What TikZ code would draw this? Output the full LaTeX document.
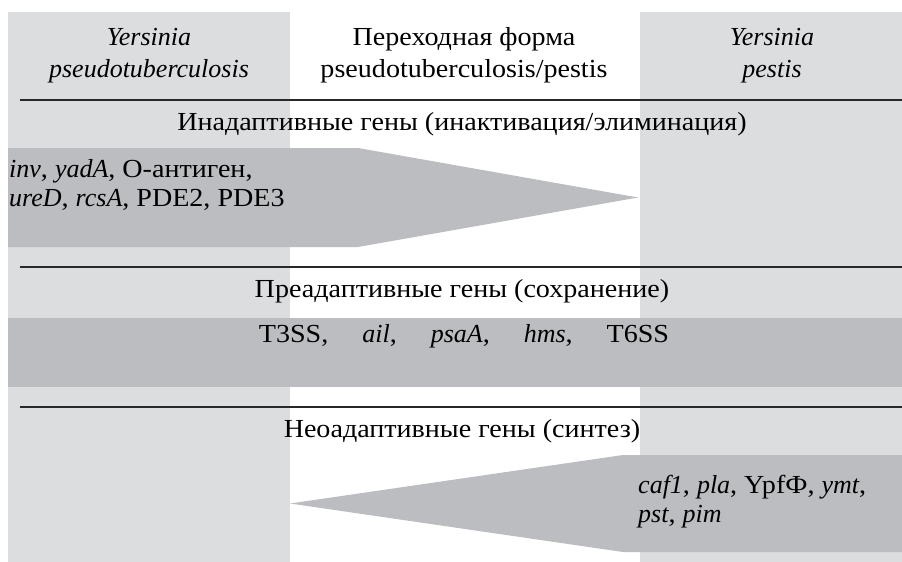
\documentclass[tikz,border=0pt]{standalone}
\usepackage{fontspec}
\setmainfont{Liberation Serif}[UprightFeatures={FakeStretch=1.08}]
\definecolor{colgray}{RGB}{220,221,223}
\definecolor{arrowgray}{RGB}{188,189,192}
\definecolor{ruleblack}{RGB}{40,40,40}
\begin{document}
\begin{tikzpicture}[x=1pt,y=-1pt,
  every node/.style={inner sep=0pt, font=\fontsize{26}{31}\selectfont},
  hdr/.style={anchor=base, align=center},
  sect/.style={anchor=base},
  genes/.style={anchor=base west, align=left, font=\fontsize{26}{29}\selectfont},
  rule/.style={draw=ruleblack, line width=2pt},
  band/.style={fill=arrowgray, draw=none}]
\useasboundingbox (0,0) rectangle (902,562);

% background columns
\fill[colgray] (8,12) rectangle (290,562);
\fill[colgray] (640,12) rectangle (902,562);

% column headers (anchored at the baseline of the second line)
\node[hdr] (hpseudo) at (149,77) {\textit{Yersinia}\\[1pt]\textit{pseudotuberculosis}};
\node[hdr] (htrans) at (464,77) {Переходная форма\\[1pt]pseudotuberculosis/pestis};
\node[hdr] (hpestis) at (772,77) {\textit{Yersinia}\\[1pt]\textit{pestis}};

% horizontal rules
\coordinate (r1a) at (20,100);  \coordinate (r1b) at (902,100);
\coordinate (r2a) at (20,267);  \coordinate (r2b) at (902,267);
\coordinate (r3a) at (20,407);  \coordinate (r3b) at (902,407);
\draw[rule] (r1a) -- (r1b);
\draw[rule] (r2a) -- (r2b);
\draw[rule] (r3a) -- (r3b);

% section titles
\node[sect] (tinad) at (462,130) {Инадаптивные гены (инактивация/элиминация)};
\node[sect] (tpread) at (462,297) {Преадаптивные гены (сохранение)};
\node[sect] (tneo) at (462,437) {Неоадаптивные гены (синтез)};

% inadaptive genes: arrow pointing right
\fill[band] (8,148) -- (358,148) -- (638,197.5) -- (358,247) -- (8,247) -- cycle;
\node[genes] (ginad) at (9,206) {\textit{inv}, \textit{yadA}, О-антиген,\\\textit{ureD}, \textit{rcsA}, PDE2, PDE3};

% preadaptive genes: full-width band
\fill[band] (8,318) rectangle (902,387);
\node[sect] (gpread) at (464,342) {T3SS,\hspace{34pt}\textit{ail},\hspace{34pt}\textit{psaA},\hspace{34pt}\textit{hms},\hspace{34pt}T6SS};

% neoadaptive genes: arrow pointing left
\fill[band] (902,455) -- (623,455) -- (290,503.5) -- (623,552) -- (902,552) -- cycle;
\node[genes] (gneo) at (638,522) {\textit{caf1}, \textit{pla}, YpfФ, \textit{ymt},\\\textit{pst}, \textit{pim}};
\end{tikzpicture}
\end{document}
